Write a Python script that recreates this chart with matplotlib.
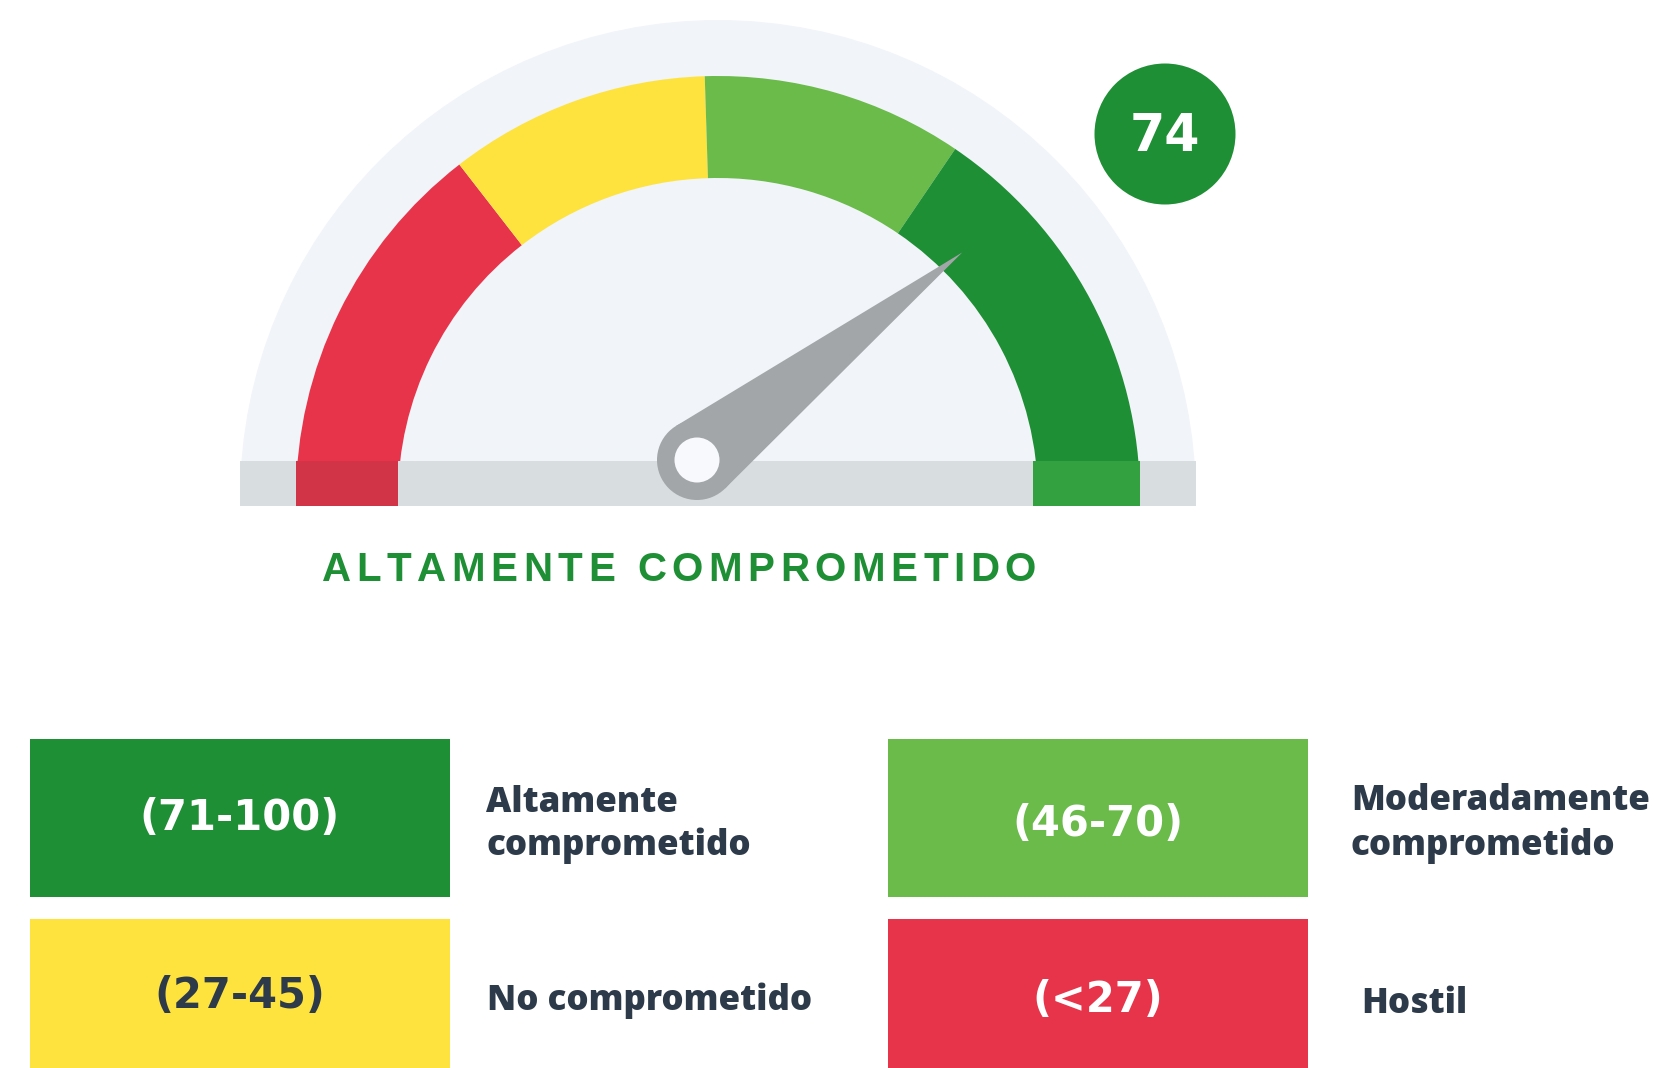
import numpy as np
import matplotlib.pyplot as plt
from matplotlib.patches import Wedge, Rectangle, Circle, Polygon
from matplotlib import font_manager
from matplotlib.ft2font import FT2Font

# datos del indicador
score = 74
status = 'ALTAMENTE COMPROMETIDO'
gauge_breaks = [0, 29, 49, 69, 100]
gauge_colors = ['#e8344a', '#fee33e', '#6abb4a', '#1f8f35']

range_labels = ['(71-100)', '(46-70)', '(27-45)', '(<27)']
range_names = [['Altamente', 'comprometido'], ['Moderadamente', 'comprometido'],
               ['No comprometido'], ['Hostil']]
range_colors = ['#1f8f35', '#6abb4a', '#fee33e', '#e8344a']
range_text_colors = ['white', 'white', '#2d3a4a', 'white']

W, H = 1654, 1068
fig = plt.figure(figsize=(W / 100, H / 100), dpi=100)
ax = fig.add_axes([0, 0, 1, 1])
ax.set_xlim(0, W)
ax.set_ylim(H, 0)
ax.set_aspect('equal')
ax.axis('off')

# geometria del gauge (pixeles)
cx, cy = 718, 498
r_bg, r_out, r_in = 478, 422, 320
band_top, base = 461, 506


def ang(v):
    return 180 + 1.8 * v


ax.add_patch(Wedge((cx, cy), r_bg, 180, 360, color='#f1f4f8', lw=0))
for a, b, c in zip(gauge_breaks[:-1], gauge_breaks[1:], gauge_colors):
    ax.add_patch(Wedge((cx, cy), r_out, ang(a), ang(b), width=r_out - r_in, color=c, lw=0))

# banda gris inferior
ax.add_patch(Rectangle((cx - r_bg, band_top), 2 * r_bg, base - band_top, color='#d8dde0', lw=0))
ax.add_patch(Rectangle((cx - r_out, band_top), r_out - r_in, base - band_top, color='#d13446', lw=0))
ax.add_patch(Rectangle((cx + r_in - 5, band_top), r_out - r_in + 5, base - band_top, color='#33a13f', lw=0))

# aguja
th = np.radians(ang(score))
tip = np.array([cx + 345 * np.cos(th) + 8, cy + 345 * np.sin(th) + 6])
piv = np.array([cx - 21, band_top - 1])
pr = 40
d = tip - piv
phi = np.arctan2(d[1], d[0])
al = np.arccos(pr / np.hypot(*d))
t1 = piv + pr * np.array([np.cos(phi + al), np.sin(phi + al)])
t2 = piv + pr * np.array([np.cos(phi - al), np.sin(phi - al)])
ax.add_patch(Polygon([tip, t1, t2], closed=True, color='#a3a6a9', lw=0))
ax.add_patch(Circle(piv, pr, color='#a3a6a9', lw=0))
ax.add_patch(Circle(piv, 22.5, color='#f8f9fc', lw=0))

# circulo con la puntuacion
ax.add_patch(Circle((1165, 134), 70.5, color='#1f8f35', lw=0))
ax.text(1165, 151, str(score), color='white', fontsize=36.5, fontweight='heavy',
        family='DejaVu Sans', ha='center', va='baseline')

# titulo con espaciado entre letras
fs_t = 29
fp = font_manager.FontProperties(family='Liberation Sans', weight='bold')
ft = FT2Font(font_manager.findfont(fp))
ft.set_size(fs_t, 100)
adv = [ft.load_char(ord(ch)).linearHoriAdvance / 65536 for ch in status]
x0, x1 = 322, 1036
track = (x1 - x0 - sum(adv)) / (len(status) - 1)
x = x0
for ch, w in zip(status, adv):
    ax.text(x, 581, ch, color='#1f8f35', fontsize=fs_t, fontweight='bold',
            family='Liberation Sans', ha='left', va='baseline')
    x += w + track

# leyenda
box_x = [29.5, 888, 29.5, 888]
box_y = [738.5, 738.5, 918.5, 918.5]
num_y = [830, 836, 1008, 1012]
name_x = [486, 1351, 487, 1361]
name_y = [811.5, 810.5, 1010, 1013]
for i in range(4):
    ax.add_patch(Rectangle((box_x[i], box_y[i]), 420, 158, color=range_colors[i], lw=0))
    ax.text(box_x[i] + 210, num_y[i], range_labels[i], color=range_text_colors[i],
            fontsize=30, fontweight='heavy', family='DejaVu Sans', ha='center', va='baseline')
    for j, line in enumerate(range_names[i]):
        ax.text(name_x[i], name_y[i] + 44 * j, line, color='#2d3a4a', fontsize=25.1,
                fontweight=800, family='Open Sans', ha='left', va='baseline')

fig.savefig('out.png', dpi=100)
